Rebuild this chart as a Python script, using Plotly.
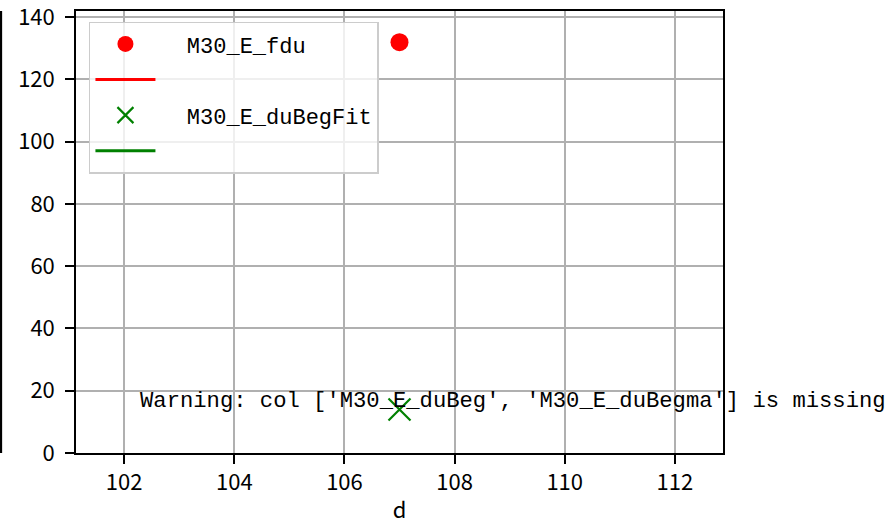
import plotly.graph_objects as go

# Measured values at depth d
depth = [107]
fdu = [132]
du_beg_fit = [14]

# Fit curves (no points available for these columns)
fdu_fit_x = [None]
fdu_fit_y = [None]
du_beg_fit_line_x = [None]
du_beg_fit_line_y = [None]

x_ticks = [102, 104, 106, 108, 110, 112]
y_ticks = [0, 20, 40, 60, 80, 100, 120, 140]

warning_text = "Warning: col ['M30_E_duBeg', 'M30_E_duBegma'] is missing"

MONO = "Liberation Mono, DejaVu Sans Mono, monospace"
SANS = "Noto Sans CJK SC, Noto Sans, sans-serif"
PAD = "\u00a0\u00a0"  # gap between legend handle and label

fig = go.Figure()
fig.add_trace(go.Scatter(
    x=depth, y=fdu, mode="markers", name=PAD + "M30_E_fdu",
    marker=dict(color="red", size=18, symbol="circle"),
    legendgroup="a",
))
fig.add_trace(go.Scatter(
    x=fdu_fit_x, y=fdu_fit_y, mode="lines", name="",
    line=dict(color="red", width=3),
    legendgroup="b",
))
fig.add_trace(go.Scatter(
    x=depth, y=du_beg_fit, mode="markers", name=PAD + "M30_E_duBegFit",
    marker=dict(color="green", size=22, symbol="x-thin",
                line=dict(color="green", width=2.2)),
    legendgroup="c",
))
fig.add_trace(go.Scatter(
    x=du_beg_fit_line_x, y=du_beg_fit_line_y, mode="lines", name="",
    line=dict(color="green", width=3),
    legendgroup="d",
))

axis_common = dict(
    showline=True, linecolor="black", linewidth=1.6, mirror=True,
    showgrid=True, gridcolor="#b0b0b0", gridwidth=1.5,
    ticks="outside", ticklen=9, tickwidth=1.6, tickcolor="black",
    tickfont=dict(family=SANS, size=22, color="black"),
    zeroline=False, automargin=False, ticklabeloverflow="allow",
)

fig.update_layout(
    width=892, height=524,
    margin=dict(l=76, r=169, t=11, b=71, autoexpand=False),
    plot_bgcolor="white", paper_bgcolor="white",
    xaxis=dict(range=[101.125, 112.875], tickvals=x_ticks,
               title=dict(text="d", font=dict(family=SANS, size=22, color="black"),
                          standoff=18),
               **axis_common),
    yaxis=dict(range=[0, 142], tickvals=y_ticks, ticklabelstandoff=6,
               **axis_common),
    legend=dict(
        x=0.02, y=0.976, xanchor="left", yanchor="top",
        bgcolor="rgba(255,255,255,0.8)", bordercolor="#cccccc", borderwidth=1.5,
        font=dict(family=MONO, size=22, color="black"),
        traceorder="grouped", tracegroupgap=4, itemwidth=60,
    ),
    showlegend=True,
)

fig.add_annotation(
    text=warning_text, xref="paper", yref="paper",
    x=(138 - 76) / 646, y=(453 - 401) / 442,
    xanchor="left", yanchor="middle", showarrow=False,
    font=dict(family=MONO, size=22.2, color="black"),
)

# Left-edge bar beside the axes
fig.add_shape(type="line", xref="paper", yref="paper",
              x0=-75 / 646, x1=-75 / 646, y0=0, y1=1,
              line=dict(color="black", width=2.5))

fig.write_html("out.html")
